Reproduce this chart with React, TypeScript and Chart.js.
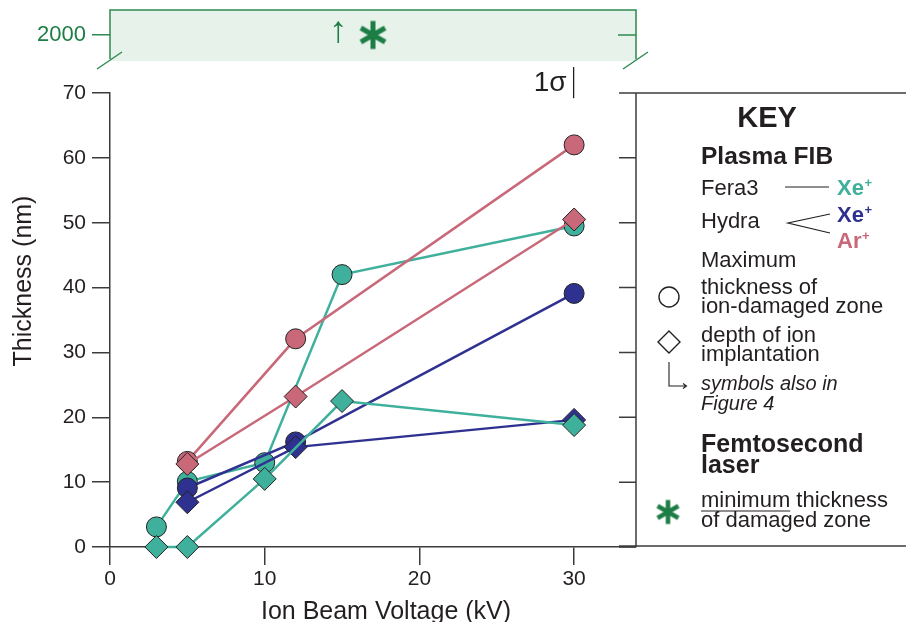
import React, { useEffect, useRef } from "react";
import { Chart, registerables } from "chart.js";
Chart.register(...registerables);

// ---------- data ----------
const xTicks = [0, 10, 20, 30];
const yTicks = [0, 10, 20, 30, 40, 50, 60, 70];
const topTicks = [2000];
const feraVolts = [3, 5, 10, 15, 30];
const feraXeMax = [3.1, 10.1, 13, 42, 49.5];
const feraXeDepth = [0, 0, 10.5, 22.5, 18.8];
const hydraVolts = [5, 12, 30];
const hydraXeMax = [9.1, 16.2, 39.1];
const hydraXeDepth = [6.9, 15.4, 19.6];
const hydraArMax = [13.2, 32.1, 62];
const hydraArDepth = [12.8, 23.2, 50.5];
const laserX = [17];
const laserY = [2000];
const arrowX = 14.75;
const sigmaX = 30;
const sigmaLow = 69.2;
const sigmaHigh = 74;

// ---------- styles ----------
const FONT = "'Liberation Sans', Arial, sans-serif";
const INK = "#231f20";
const AXIS = "#3c3c3c";
const TEAL = "#3fb09c";
const NAVY = "#2f3191";
const PINK = "#c96878";
const GREEN = "#1c7d45";
const GREEN_LINE = "#2f8b52";
const GREEN_FILL = "#e6f2ea";

function makeStar(r: number, lw: number, color: string) {
  const c = document.createElement("canvas");
  const s = Math.ceil(2 * r + lw + 4);
  c.width = s;
  c.height = s;
  const g = c.getContext("2d")!;
  g.strokeStyle = color;
  g.lineWidth = lw;
  g.translate(s / 2, s / 2);
  for (let k = 0; k < 3; k++) {
    const ang = Math.PI / 2 + (k * Math.PI) / 3;
    g.beginPath();
    g.moveTo(r * Math.cos(ang), r * Math.sin(ang));
    g.lineTo(-r * Math.cos(ang), -r * Math.sin(ang));
    g.stroke();
  }
  return c;
}

function series(label: string, xs: number[], ys: number[], color: string, style: string, order: number) {
  return {
    label,
    data: xs.map((v, i) => ({ x: v, y: ys[i] })),
    borderColor: color,
    backgroundColor: color,
    pointBackgroundColor: color,
    pointBorderColor: "#222",
    pointBorderWidth: 1,
    pointStyle: style,
    pointRadius: style === "circle" ? 10 : 11.5,
    borderWidth: 2.5,
    showLine: true,
    order,
    clip: false as any,
  };
}

const f = (size: number, weight = "normal", style = "normal") => `${style} ${weight} ${size}px ${FONT}`;

export default function App() {
  const mainRef = useRef<HTMLCanvasElement>(null);
  const topRef = useRef<HTMLCanvasElement>(null);

  useEffect(() => {
    const star = makeStar(14, 5, GREEN);
    const keyStar = makeStar(12, 4.5, GREEN);

    const mainDecor = {
      id: "mainDecor",
      afterDraw(chart: any) {
        const { ctx, chartArea: a, scales } = chart;
        const x = scales.x;
        const y = scales.y;
        ctx.save();
        // right frame with inward ticks + key box
        ctx.strokeStyle = AXIS;
        ctx.lineWidth = 1.5;
        ctx.beginPath();
        ctx.moveTo(a.right, a.top);
        ctx.lineTo(a.right, a.bottom);
        ctx.moveTo(a.right - 17, a.top);
        ctx.lineTo(chart.width + 2, a.top);
        ctx.moveTo(a.right - 17, a.bottom - 1);
        ctx.lineTo(chart.width + 2, a.bottom - 1);
        yTicks.forEach((v) => {
          const py = y.getPixelForValue(v);
          ctx.moveTo(a.right - 17, py);
          ctx.lineTo(a.right, py);
        });
        ctx.stroke();

        // 1 sigma bar
        const sx = x.getPixelForValue(sigmaX) - 0.5;
        ctx.strokeStyle = INK;
        ctx.lineWidth = 1.3;
        ctx.beginPath();
        ctx.moveTo(sx, y.getPixelForValue(sigmaHigh));
        ctx.lineTo(sx, y.getPixelForValue(sigmaLow));
        ctx.stroke();
        ctx.fillStyle = INK;
        ctx.font = f(28);
        ctx.textAlign = "right";
        ctx.textBaseline = "alphabetic";
        ctx.fillText("1σ", sx - 7, 91);

        // axis titles
        ctx.font = f(25);
        ctx.textAlign = "center";
        ctx.fillText("Ion Beam Voltage (kV)", 386, 619);
        ctx.save();
        ctx.translate(31, 281);
        ctx.rotate(-Math.PI / 2);
        ctx.fillText("Thickness (nm)", 0, 0);
        ctx.restore();

        // ---------- KEY ----------
        const KX = 701;
        ctx.fillStyle = INK;
        ctx.textAlign = "center";
        ctx.font = f(29, "bold");
        ctx.fillText("KEY", 767, 127);
        ctx.textAlign = "left";
        ctx.font = f(24.5, "bold");
        ctx.fillText("Plasma FIB", KX, 164);
        ctx.font = f(22);
        ctx.fillText("Fera3", KX, 195);
        ctx.fillText("Hydra", KX, 228);

        const ion = (txt: string, color: string, bx: number, by: number) => {
          ctx.fillStyle = color;
          ctx.font = f(22, "bold");
          ctx.fillText(txt, bx, by);
          const w = ctx.measureText(txt).width;
          ctx.font = f(13, "bold");
          ctx.fillText("+", bx + w + 0.5, by - 8);
        };
        ion("Xe", TEAL, 837, 195);
        ion("Xe", NAVY, 837, 222);
        ion("Ar", PINK, 837, 248);

        ctx.strokeStyle = INK;
        ctx.lineWidth = 1.2;
        ctx.beginPath();
        ctx.moveTo(785, 187);
        ctx.lineTo(829, 187);
        ctx.moveTo(830, 214);
        ctx.lineTo(788, 223);
        ctx.lineTo(830, 233);
        ctx.stroke();

        ctx.fillStyle = INK;
        ctx.font = f(22);
        ctx.fillText("Maximum", KX, 267);
        ctx.fillText("thickness of", KX, 294);
        ctx.fillText("ion-damaged zone", KX, 313);
        ctx.fillText("depth of ion", KX, 342);
        ctx.fillText("implantation", KX, 361);

        ctx.lineWidth = 1.4;
        ctx.strokeStyle = INK;
        ctx.beginPath();
        ctx.arc(669, 297, 10, 0, Math.PI * 2);
        ctx.stroke();
        ctx.beginPath();
        ctx.moveTo(669, 331);
        ctx.lineTo(680, 342);
        ctx.lineTo(669, 353);
        ctx.lineTo(658, 342);
        ctx.closePath();
        ctx.stroke();

        ctx.lineWidth = 1.1;
        ctx.beginPath();
        ctx.moveTo(669, 362);
        ctx.lineTo(669, 386);
        ctx.lineTo(686, 386);
        ctx.moveTo(683, 383.5);
        ctx.lineTo(686.5, 386);
        ctx.lineTo(683, 388.5);
        ctx.stroke();

        ctx.font = f(20, "normal", "italic");
        ctx.fillText("symbols also in", KX, 390);
        ctx.fillText("Figure 4", KX, 410);

        ctx.font = f(25, "bold");
        ctx.fillText("Femtosecond", KX, 452);
        ctx.fillText("laser", KX, 473);

        ctx.drawImage(keyStar, 668 - keyStar.width / 2, 512 - keyStar.height / 2);
        ctx.font = f(22);
        ctx.fillText("minimum", KX, 507);
        const mw = ctx.measureText("minimum").width;
        ctx.fillText(" thickness", KX + mw, 507);
        ctx.fillText("of damaged zone", KX, 527);
        ctx.lineWidth = 1.2;
        ctx.beginPath();
        ctx.moveTo(KX, 511);
        ctx.lineTo(KX + mw, 511);
        ctx.stroke();
        ctx.restore();
      },
    };

    const main = new Chart(mainRef.current!, {
      type: "scatter",
      data: {
        datasets: [
          series("Fera3 Xe+ max", feraVolts, feraXeMax, TEAL, "circle", 6),
          series("Hydra Xe+ max", hydraVolts, hydraXeMax, NAVY, "circle", 5),
          series("Hydra Xe+ depth", hydraVolts, hydraXeDepth, NAVY, "rectRot", 4),
          series("Fera3 Xe+ depth", feraVolts, feraXeDepth, TEAL, "rectRot", 3),
          series("Hydra Ar+ max", hydraVolts, hydraArMax, PINK, "circle", 2),
          series("Hydra Ar+ depth", hydraVolts, hydraArDepth, PINK, "rectRot", 1),
        ] as any,
      },
      options: {
        responsive: false,
        animation: false,
        events: [],
        layout: { autoPadding: false, padding: { top: 93, right: 270, bottom: 0, left: 0 } },
        scales: {
          x: {
            type: "linear",
            min: 0,
            max: 34,
            afterBuildTicks: (s: any) => {
              s.ticks = xTicks.map((v) => ({ value: v }));
            },
            afterFit: (s: any) => {
              s.height = 75;
            },
            ticks: { color: INK, font: { family: FONT, size: 21 }, padding: 2, maxRotation: 0 },
            grid: { drawOnChartArea: false, tickLength: 18, color: AXIS, lineWidth: 1.5 },
            border: { display: true, color: AXIS, width: 1.5 },
          },
          y: {
            type: "linear",
            min: 0,
            max: 70,
            afterBuildTicks: (s: any) => {
              s.ticks = yTicks.map((v) => ({ value: v }));
            },
            afterFit: (s: any) => {
              s.width = 110;
            },
            ticks: { color: INK, font: { family: FONT, size: 21 }, padding: 6 },
            grid: { drawOnChartArea: false, tickLength: 18, color: AXIS, lineWidth: 1.5 },
            border: { display: true, color: AXIS, width: 1.5 },
          },
        },
        plugins: { legend: { display: false }, tooltip: { enabled: false } },
      } as any,
      plugins: [mainDecor],
    });

    const topDecor = {
      id: "topDecor",
      beforeDatasetsDraw(chart: any) {
        const { ctx, chartArea: a, scales } = chart;
        ctx.save();
        ctx.fillStyle = GREEN_FILL;
        ctx.fillRect(a.left, a.top, a.right - a.left + 1, a.bottom - a.top + 1);
        ctx.strokeStyle = GREEN_LINE;
        ctx.lineWidth = 1.5;
        ctx.beginPath();
        ctx.moveTo(a.left, a.bottom - 1);
        ctx.lineTo(a.left, a.top);
        ctx.lineTo(a.right, a.top);
        ctx.lineTo(a.right, a.bottom - 1);
        topTicks.forEach((v) => {
          const py = scales.y.getPixelForValue(v);
          ctx.moveTo(a.right - 18, py);
          ctx.lineTo(a.right, py);
        });
        // break marks
        ctx.moveTo(a.left - 13, a.bottom + 9);
        ctx.lineTo(a.left + 12, a.bottom - 8);
        ctx.moveTo(a.right - 13, a.bottom + 9);
        ctx.lineTo(a.right + 12, a.bottom - 8);
        ctx.stroke();
        // arrow
        ctx.fillStyle = GREEN;
        ctx.font = f(37);
        ctx.textAlign = "center";
        ctx.textBaseline = "middle";
        ctx.fillText("↑", scales.x.getPixelForValue(arrowX), scales.y.getPixelForValue(2000) - 3);
        ctx.restore();
      },
    };

    const top = new Chart(topRef.current!, {
      type: "scatter",
      data: {
        datasets: [
          {
            label: "Femtosecond laser",
            data: laserX.map((v, i) => ({ x: v, y: laserY[i] })),
            pointStyle: star as any,
            pointRadius: 14,
            clip: false as any,
          },
        ],
      },
      options: {
        responsive: false,
        animation: false,
        events: [],
        layout: { autoPadding: false, padding: { top: 10, right: 270, bottom: 562, left: 0 } },
        scales: {
          x: { type: "linear", min: 0, max: 34, display: false },
          y: {
            type: "linear",
            min: 1900,
            max: 2100,
            afterBuildTicks: (s: any) => {
              s.ticks = topTicks.map((v) => ({ value: v }));
            },
            afterFit: (s: any) => {
              s.width = 110;
              s.paddingTop = 0;
              s.paddingBottom = 0;
            },
            ticks: { color: GREEN, font: { family: FONT, size: 22 }, padding: 6, callback: (v: any) => String(v) },
            grid: { drawOnChartArea: false, tickLength: 18, color: GREEN_LINE, lineWidth: 1.5 },
            border: { display: false },
          },
        },
        plugins: { legend: { display: false }, tooltip: { enabled: false } },
      } as any,
      plugins: [topDecor],
    });

    return () => {
      main.destroy();
      top.destroy();
    };
  }, []);

  return (
    <div style={{ position: "fixed", left: 0, top: 0, width: 906, height: 622, background: "#fff", overflow: "hidden" }}>
      <canvas ref={mainRef} width={906} height={622} style={{ position: "absolute", left: 0, top: 0 }} />
      <canvas ref={topRef} width={906} height={622} style={{ position: "absolute", left: 0, top: 0 }} />
    </div>
  );
}
